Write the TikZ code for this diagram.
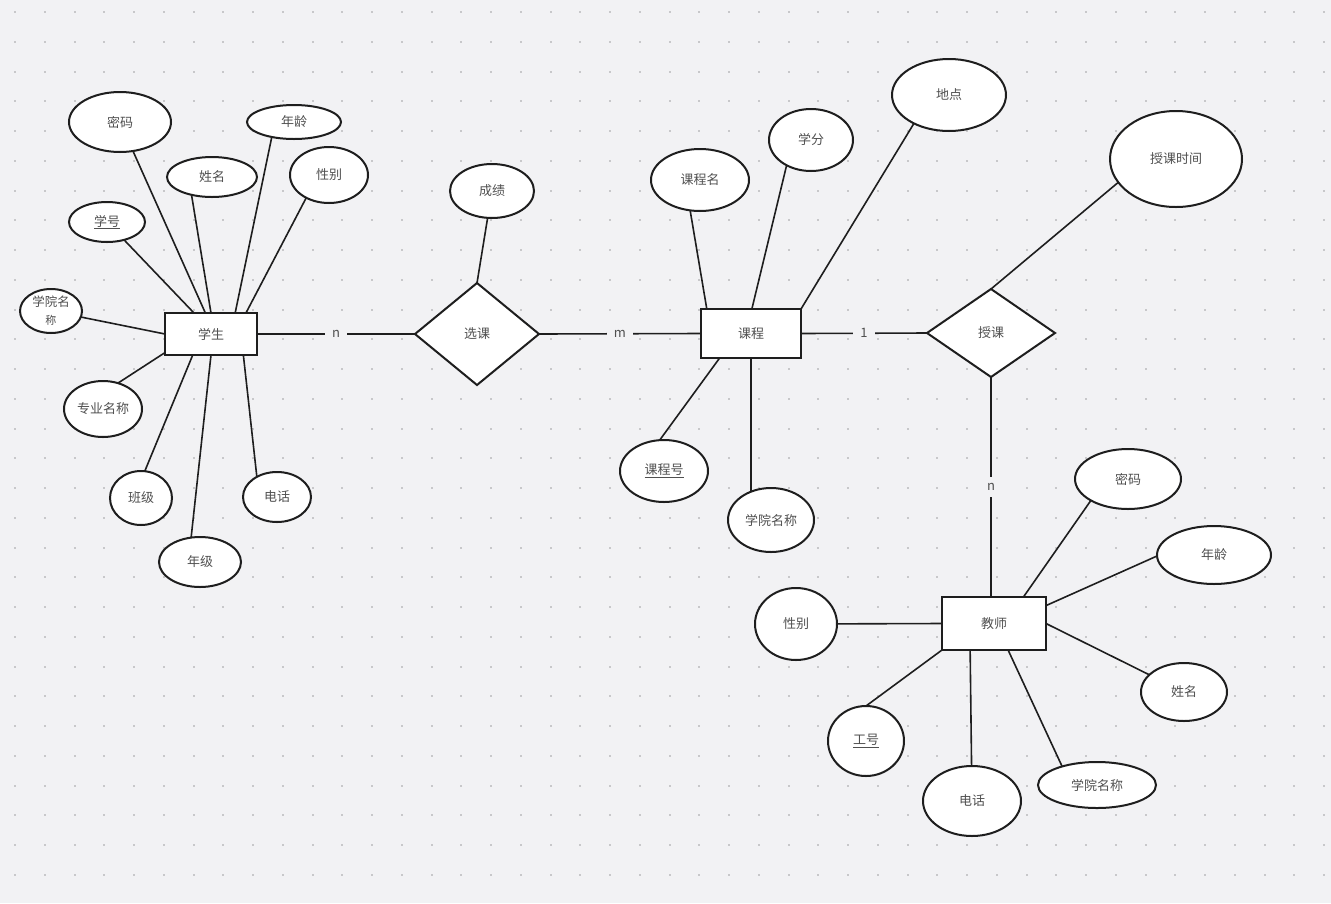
\documentclass[tikz,border=0pt]{standalone}
\usepackage{fontspec}
\newfontfamily\cjk{Noto Sans CJK SC}
\usetikzlibrary{shapes.geometric}
\definecolor{bgc}{HTML}{F2F2F4}
\definecolor{dotc}{HTML}{C8C8CA}
\definecolor{txtc}{HTML}{505050}
\definecolor{linec}{HTML}{1E1E1E}
\tikzset{
  base/.style={draw=linec, line width=2pt, fill=white, inner sep=0pt, outer sep=0pt,
    text=txtc, font=\cjk\fontsize{13}{15}\selectfont, align=center},
  ent/.style={base, rectangle},
  attr/.style={base, ellipse},
  rel/.style={base, diamond},
  conn/.style={draw=linec, line width=1.6pt},
  card/.style={fill=bgc, inner xsep=7pt, inner ysep=6pt, text=txtc, font=\cjk\fontsize{13}{15}\selectfont}
}
\begin{document}
\begin{tikzpicture}[x=1pt,y=-1pt]
\useasboundingbox (0,0) rectangle (1331,903);
\fill[bgc] (0,0) rectangle (1331,903);
\foreach \i in {0,...,44}{
  \foreach \j in {0,...,29}{
    \fill[dotc] ({14+29.75*\i},{11+29.75*\j}) rectangle +(2,2);
  }
}
% ---------- student ----------
\node[ent, minimum width=92pt, minimum height=42pt] (xs) at (211,334) {学生};
\node[attr, minimum width=102pt, minimum height=60pt] (mm1) at (120,122) {密码};
\node[attr, minimum width=94pt, minimum height=34pt] (nl1) at (294,122) {年龄};
\node[attr, minimum width=90pt, minimum height=40pt] (xm1) at (212,177) {姓名};
\node[attr, minimum width=78pt, minimum height=56pt] (xb1) at (329,175) {性别};
\node[attr, minimum width=76pt, minimum height=40pt] (xh) at (107,222) {\underline{学号}};
\node[attr, minimum width=62pt, minimum height=44pt, font=\cjk\fontsize{12.5}{18}\selectfont] (xy1) at (51,311) {学院名\\{\fontsize{11}{13}\selectfont 称}};
\node[attr, minimum width=78pt, minimum height=56pt] (zy) at (103,409) {专业名称};
\node[attr, minimum width=62pt, minimum height=54pt] (bj) at (141,498) {班级};
\node[attr, minimum width=82pt, minimum height=50pt] (nj) at (200,562) {年级};
\node[attr, minimum width=68pt, minimum height=50pt] (dh1) at (277,497) {电话};
% ---------- select ----------
\node[rel, minimum width=124pt, minimum height=102pt] (xk) at (477,334) {选课};
\node[attr, minimum width=84pt, minimum height=54pt] (cj) at (492,191) {成绩};
% ---------- course ----------
\node[ent, minimum width=100pt, minimum height=49pt] (kc) at (751,333.5) {课程};
\node[attr, minimum width=98pt, minimum height=62pt] (kcm) at (700,180) {课程名};
\node[attr, minimum width=84pt, minimum height=62pt] (xf) at (811,140) {学分};
\node[attr, minimum width=114pt, minimum height=72pt] (dd) at (949,95) {地点};
\node[attr, minimum width=88pt, minimum height=62pt] (kch) at (664,471) {\underline{课程号}};
\node[attr, minimum width=86pt, minimum height=64pt] (xy2) at (771,520) {学院名称};
% ---------- teach ----------
\node[rel, minimum width=128pt, minimum height=88pt] (sk) at (991,333) {授课};
\node[attr, minimum width=132pt, minimum height=96pt] (skt) at (1176,159) {授课时间};
% ---------- teacher ----------
\node[ent, minimum width=104pt, minimum height=53pt] (js) at (994,623.5) {教师};
\node[attr, minimum width=106pt, minimum height=60pt] (mm2) at (1128,479) {密码};
\node[attr, minimum width=114pt, minimum height=58pt] (nl2) at (1214,555) {年龄};
\node[attr, minimum width=86pt, minimum height=58pt] (xm2) at (1184,692) {姓名};
\node[attr, minimum width=118pt, minimum height=46pt] (xy3) at (1097,785) {学院名称};
\node[attr, minimum width=98pt, minimum height=70pt] (dh2) at (972,801) {电话};
\node[attr, minimum width=76pt, minimum height=70pt] (gh) at (866,741) {\underline{工号}};
\node[attr, minimum width=82pt, minimum height=72pt] (xb2) at (796,624) {性别};
% ---------- connectors: student ----------
\draw[conn] (mm1) -- (xs.105);
\draw[conn] (xm1.221) -- (xs.90);
\draw[conn] (nl1.214) -- (xs.41);
\draw[conn] (xb1.225) -- (xs.31);
\draw[conn] (xh) -- (xs.129);
\draw[conn] (xy1) -- (xs.west);
\draw[conn] (zy.60) -- (xs.202);
\draw[conn] (bj.82) -- (xs.229);
\draw[conn] (nj.110) -- (xs.270);
\draw[conn] (dh1.135) -- (xs.327);
% ---------- relations ----------
\draw[conn] (xs.east) -- node[card]{n} (xk.west);
\draw[conn] (cj) -- (xk.north);
\draw[conn] (xk.east) -- node[card]{m} (kc.west);
\draw[conn] (kc.east) -- node[card]{1} (sk.west);
\draw[conn] (skt.202) -- (sk.north);
\draw[conn] (sk.south) -- node[card]{n} (sk.south |- js.north);
% ---------- course ----------
\draw[conn] (kcm.252) -- (kc.151);
\draw[conn] (xf.226) -- (kc.88);
\draw[conn] (dd.219) -- (kc.north east);
\draw[conn] (kch.98) -- (kc.218);
\draw[conn] (kc.south) -- (kc.south |- xy2.123);
% ---------- teacher ----------
\draw[conn] (mm2.210) -- (js.42);
\draw[conn] (nl2.181) -- (js.19);
\draw[conn] (xm2) -- (js.east);
\draw[conn] (xy3.152) -- (js.298);
\draw[conn] (dh2) -- (js.228);
\draw[conn] (gh.north) -- (js.south west);
\draw[conn] (xb2) -- (js.west);
\end{tikzpicture}
\end{document}
